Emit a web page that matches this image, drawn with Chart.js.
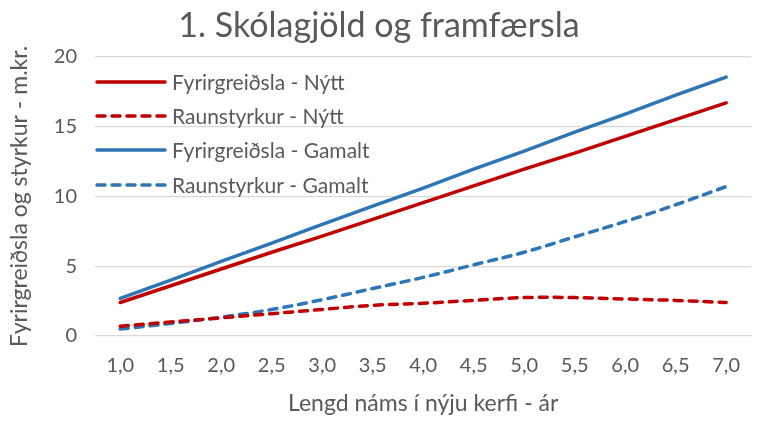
<!DOCTYPE html>
<html>
<head>
<meta charset="utf-8">
<script src="https://cdn.jsdelivr.net/npm/chart.js@4/dist/chart.umd.min.js"></script>
<style>
  html, body { margin: 0; padding: 0; background: #fff; }
  #wrap { width: 758px; height: 421px; position: relative; }
</style>
</head>
<body>
<div id="wrap"><canvas id="graf"></canvas></div>
<script>
const arLabels = ['1,0','1,5','2,0','2,5','3,0','3,5','4,0','4,5','5,0','5,5','6,0','6,5','7,0'];
const fyrirNytt = [2.4, 3.6, 4.8, 6.0, 7.15, 8.35, 9.55, 10.75, 11.95, 13.1, 14.3, 15.5, 16.7];
const raunNytt = [0.7, 1.0, 1.3, 1.6, 1.9, 2.2, 2.35, 2.55, 2.75, 2.75, 2.65, 2.55, 2.4];
const fyrirGamalt = [2.7, 4.0, 5.35, 6.65, 8.0, 9.3, 10.6, 11.95, 13.25, 14.6, 15.9, 17.25, 18.55];
const raunGamalt = [0.5, 0.9, 1.35, 1.9, 2.6, 3.4, 4.2, 5.1, 6.0, 7.1, 8.2, 9.4, 10.7];

const RAUTT = '#C00000';
const BLATT = '#2E75B6';
const GRATT = '#595959';
const letur = 'Lato, "Open Sans", sans-serif';

// legend drawn inside plot area, top left
const innriSkyring = {
    id: 'innriSkyring',
    afterDraw(chart) {
        const ctx = chart.ctx;
        const left = chart.chartArea.left;
        const rows = [82, 116, 150, 185];
        ctx.save();
        chart.data.datasets.forEach((ds, i) => {
            const y = rows[i];
            ctx.strokeStyle = ds.borderColor;
            ctx.lineWidth = ds.borderWidth;
            ctx.lineCap = 'round';
            ctx.setLineDash(ds.borderDash || []);
            ctx.beginPath();
            ctx.moveTo(left + 2, y);
            ctx.lineTo(left + 70, y);
            ctx.stroke();
            ctx.setLineDash([]);
            ctx.fillStyle = GRATT;
            ctx.font = '21px ' + letur;
            ctx.textBaseline = 'middle';
            ctx.fillText(ds.label, left + 77, y + 1);
        });
        ctx.restore();
    }
};

new Chart(document.getElementById('graf'), {
    type: 'line',
    data: {
        labels: arLabels,
        datasets: [
            { label: 'Fyrirgreiðsla - Nýtt', data: fyrirNytt, borderColor: RAUTT, borderWidth: 3.5, tension: 0 },
            { label: 'Raunstyrkur - Nýtt', data: raunNytt, borderColor: RAUTT, borderWidth: 3.5, borderDash: [8, 7] },
            { label: 'Fyrirgreiðsla - Gamalt', data: fyrirGamalt, borderColor: BLATT, borderWidth: 3.5, tension: 0 },
            { label: 'Raunstyrkur - Gamalt', data: raunGamalt, borderColor: BLATT, borderWidth: 3.5, borderDash: [8, 7] }
        ]
    },
    options: {
        responsive: true,
        maintainAspectRatio: false,
        animation: false,
        layout: { padding: { left: 0, right: 0, top: 0, bottom: 0 } },
        elements: {
            point: { radius: 0 },
            line: { tension: 0.4, borderCapStyle: 'round', fill: false }
        },
        scales: {
            x: {
                offset: true,
                grid: { display: false, drawTicks: false },
                border: { display: false },
                ticks: { color: GRATT, font: { family: letur, size: 20 }, padding: 18, maxRotation: 0 },
                title: { display: true, text: 'Lengd náms í nýju kerfi - ár', color: GRATT, font: { family: letur, size: 23 }, padding: { top: 0 } },
                afterFit(scale) { scale.height = 85; }
            },
            y: {
                min: 0,
                max: 20,
                ticks: { stepSize: 5, color: GRATT, font: { family: letur, size: 20 }, padding: 18 },
                grid: { color: '#D9D9D9', lineWidth: 1.3, drawTicks: false },
                border: { display: false },
                title: { display: true, text: 'Fyrirgreiðsla og styrkur - m.kr.', color: GRATT, font: { family: letur, size: 23 }, padding: { top: 6, bottom: 0 } },
                afterFit(scale) { scale.width = 95; }
            }
        },
        plugins: {
            legend: { display: false },
            tooltip: { enabled: false },
            title: {
                display: true,
                text: '1. Skólagjöld og framfærsla',
                color: GRATT,
                font: { family: letur, size: 34, weight: 'normal' },
                padding: { top: 6, bottom: 10 }
            }
        }
    },
    plugins: [innriSkyring]
});
</script>
</body>
</html>
